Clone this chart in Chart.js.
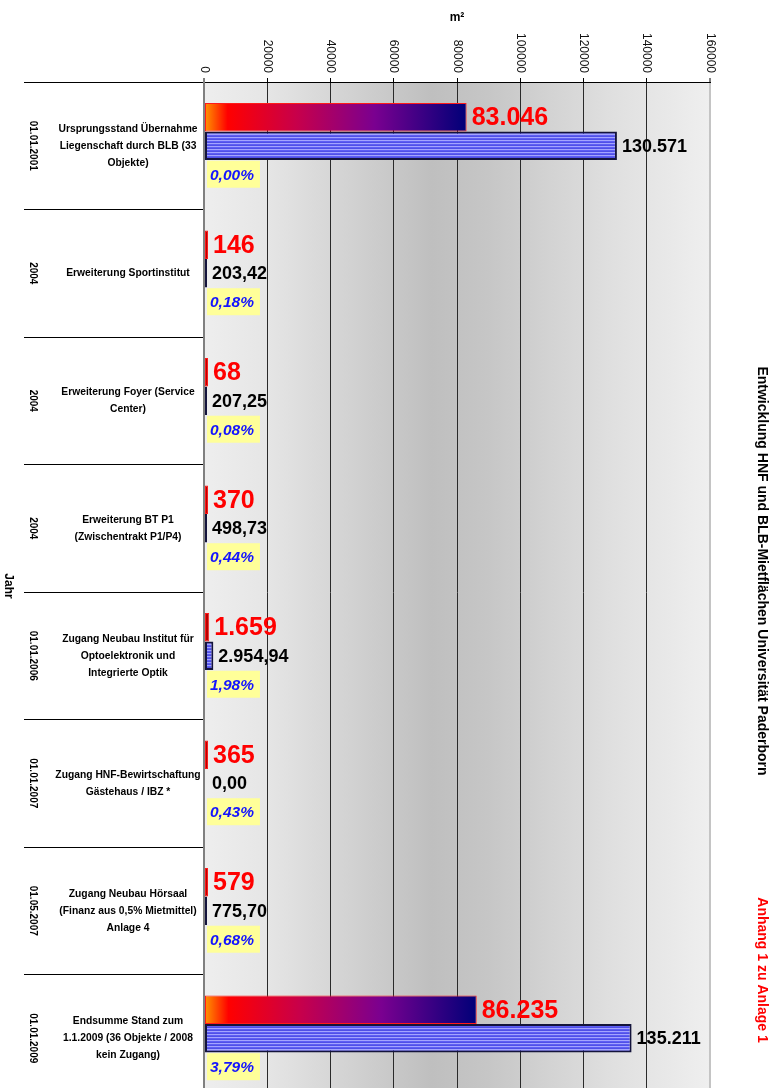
<!DOCTYPE html>
<html>
<head>
<meta charset="utf-8">
<title>Entwicklung HNF und BLB-Mietflächen Universität Paderborn</title>
<script src="https://cdn.jsdelivr.net/npm/chart.js@4/dist/chart.umd.min.js"></script>
<style>
  html, body { margin: 0; padding: 0; overflow: hidden; background: #ffffff; }
  canvas { display: block; }
</style>
</head>
<body>
<canvas id="chart" width="778" height="1102"></canvas>
<script>
// Stichtage / Jahre je Zeile
const years = ['01.01.2001', '2004', '2004', '2004', '01.01.2006', '01.01.2007', '01.05.2007', '01.01.2009'];

// Beschreibung je Zeile (mehrzeilig)
const descriptions = [
  ['Ursprungsstand Übernahme', 'Liegenschaft durch BLB (33', 'Objekte)'],
  ['Erweiterung Sportinstitut'],
  ['Erweiterung Foyer (Service', 'Center)'],
  ['Erweiterung BT P1', '(Zwischentrakt P1/P4)'],
  ['Zugang Neubau Institut für', 'Optoelektronik und', 'Integrierte Optik'],
  ['Zugang HNF-Bewirtschaftung', 'Gästehaus / IBZ *'],
  ['Zugang Neubau Hörsaal', '(Finanz aus 0,5% Mietmittel)', 'Anlage 4'],
  ['Endsumme Stand zum', '1.1.2009 (36 Objekte / 2008', 'kein Zugang)']
];

// HNF in m²
const hnfValues = [83046, 146, 68, 370, 1659, 365, 579, 86235];
// BLB-Mietfläche in m²
const blbValues = [130571, 203.42, 207.25, 498.73, 2954.94, 0, 775.70, 135211];
// Veränderung in %
const shareValues = [0.00, 0.18, 0.08, 0.44, 1.98, 0.43, 0.68, 3.79];

// Achse m²
const axisMin = 0;
const axisMax = 160000;
const axisStep = 20000;

const FONT = '"Liberation Sans", Arial, sans-serif';

// Zahlen im deutschen Format
function fmtDe(v, dec) {
  const parts = v.toFixed(dec).split('.');
  parts[0] = parts[0].replace(/\B(?=(\d{3})+(?!\d))/g, '.');
  return parts.length > 1 ? parts[0] + ',' + parts[1] : parts[0];
}

// Streifenmuster für die BLB-Balken
function stripePattern() {
  const p = document.createElement('canvas');
  p.width = 4; p.height = 3;
  const c = p.getContext('2d');
  c.fillStyle = '#5e5ef4'; c.fillRect(0, 0, 4, 1);
  c.fillStyle = '#5050e6'; c.fillRect(0, 1, 4, 1);
  c.fillStyle = '#a4a4ff'; c.fillRect(0, 2, 4, 1);
  return document.getElementById('chart').getContext('2d').createPattern(p, 'repeat');
}
const blbFill = stripePattern();

// Farbverlauf orange → rot → violett → dunkelblau je HNF-Balken
function hnfGradient(ctx) {
  const chart = ctx.chart;
  const xs = chart.scales.x;
  if (!xs || !chart.chartArea || ctx.type !== 'data') return '#ff0000';
  const x0 = xs.getPixelForValue(0);
  const x1 = xs.getPixelForValue(ctx.raw);
  if (x1 - x0 < 12) return '#b80000';
  const g = chart.ctx.createLinearGradient(x0, 0, x1, 0);
  g.addColorStop(0, '#ff9a00');
  g.addColorStop(0.09, '#ff0000');
  g.addColorStop(0.35, '#c8004a');
  g.addColorStop(0.65, '#7a0090');
  g.addColorStop(1, '#000078');
  return g;
}

// Leere Werte (0) ohne sichtbaren Balken
const blbBackground = (ctx) => (ctx.type === 'data' && ctx.raw === 0) ? 'rgba(0,0,0,0)' : blbFill;
const blbBorder = (ctx) => (ctx.type === 'data' && ctx.raw === 0) ? 'rgba(0,0,0,0)' : '#14143c';

const decorations = {
  id: 'decorations',
  beforeDraw(chart) {
    const { ctx, chartArea: a } = chart;
    const g = ctx.createLinearGradient(a.left, 0, a.right, 0);
    g.addColorStop(0, '#eeeeee');
    g.addColorStop(0.12, '#e6e6e6');
    g.addColorStop(0.45, '#bfbfbf');
    g.addColorStop(0.56, '#c6c6c6');
    g.addColorStop(0.8, '#dfdfdf');
    g.addColorStop(1, '#efefef');
    ctx.save();
    ctx.fillStyle = g;
    ctx.fillRect(a.left, a.top, a.right - a.left, a.bottom - a.top);
    ctx.restore();
  },
  afterDatasetsDraw(chart) {
    const { ctx, chartArea: a } = chart;
    ctx.save();
    ctx.textBaseline = 'middle';
    ctx.textAlign = 'left';

    // HNF-Werte
    const mH = chart.getDatasetMeta(0);
    ctx.font = 'bold 25px ' + FONT;
    ctx.fillStyle = '#ff0000';
    mH.data.forEach((el, i) => {
      ctx.fillText(fmtDe(hnfValues[i], 0), el.x + 5, el.y + 1);
    });

    // BLB-Werte
    const mB = chart.getDatasetMeta(1);
    ctx.font = 'bold 18px ' + FONT;
    ctx.fillStyle = '#000000';
    mB.data.forEach((el, i) => {
      const v = blbValues[i];
      ctx.fillText(fmtDe(v, v >= 10000 ? 0 : 2), el.x + 5, el.y + 1);
    });

    // Prozentwerte im gelben Feld
    const mP = chart.getDatasetMeta(2);
    ctx.font = 'italic bold 15.5px ' + FONT;
    mP.data.forEach((el, i) => {
      const t = fmtDe(shareValues[i], 2) + '%';
      const w = ctx.measureText(t).width;
      ctx.fillStyle = '#ffff99';
      ctx.fillRect(a.left + 3, el.y - 13.5, w + 9, 27);
      ctx.fillStyle = '#1414ff';
      ctx.fillText(t, a.left + 6, el.y + 1);
    });
    ctx.restore();
  },
  afterDraw(chart) {
    const { ctx, chartArea: a } = chart;
    const xs = chart.scales.x;
    const ys = chart.scales.y;
    ctx.save();

    // Achsenbeschriftung oben, gedreht
    ctx.fillStyle = '#111111';
    ctx.font = '12px ' + FONT;
    ctx.textAlign = 'right';
    ctx.textBaseline = 'middle';
    xs.ticks.forEach(t => {
      const x = xs.getPixelForValue(t.value);
      ctx.save();
      ctx.translate(x, a.top - 9);
      ctx.rotate(Math.PI / 2);
      ctx.fillText(String(t.value), 0, 0);
      ctx.restore();
    });

    // Achsentitel m²
    ctx.font = 'bold 12px ' + FONT;
    ctx.textAlign = 'center';
    ctx.fillStyle = '#000000';
    ctx.fillText('m²', (a.left + a.right) / 2, 18);

    // Achsentitel Jahr
    ctx.save();
    ctx.translate(8, 586);
    ctx.rotate(Math.PI / 2);
    ctx.font = 'bold 12px ' + FONT;
    ctx.fillText('Jahr', 0, 0);
    ctx.restore();

    // Zeilenbeschriftungen
    years.forEach((yr, i) => {
      const y = ys.getPixelForValue(i);
      ctx.save();
      ctx.translate(33, y);
      ctx.rotate(Math.PI / 2);
      ctx.font = 'bold 10px ' + FONT;
      ctx.fillText(yr, 0, 0);
      ctx.restore();

      const lines = descriptions[i];
      ctx.font = 'bold 10.3px ' + FONT;
      const lh = 17;
      const y0 = y - (lines.length - 1) * lh / 2;
      lines.forEach((ln, k) => ctx.fillText(ln, 128, y0 + k * lh));
    });

    // Titel rechts
    ctx.save();
    ctx.translate(762, 571);
    ctx.rotate(Math.PI / 2);
    ctx.font = 'bold 14px ' + FONT;
    ctx.fillStyle = '#000000';
    ctx.fillText('Entwicklung HNF und BLB-Mietflächen Universität Paderborn', 0, 0);
    ctx.restore();

    ctx.save();
    ctx.translate(762, 970);
    ctx.rotate(Math.PI / 2);
    ctx.font = 'bold 14px ' + FONT;
    ctx.fillStyle = '#ff0000';
    ctx.fillText('Anhang 1 zu Anlage 1', 0, 0);
    ctx.restore();

    ctx.restore();
  }
};

const gridColor = (c) => {
  if (c.index === 0) return '#808080';
  if (c.tick && c.tick.value === axisMax) return '#c4c4c4';
  return '#2a2a2a';
};
const gridWidth = (c) => (c.index === 0 || (c.tick && c.tick.value === axisMax)) ? 2 : 1;

new Chart(document.getElementById('chart'), {
  type: 'bar',
  data: {
    labels: years,
    datasets: [
      {
        label: 'HNF',
        data: hnfValues,
        backgroundColor: hnfGradient,
        borderColor: '#ff1a1a',
        borderWidth: 1,
        borderSkipped: false,
        minBarLength: 4
      },
      {
        label: 'BLB-Mietfläche',
        data: blbValues,
        backgroundColor: blbBackground,
        borderColor: blbBorder,
        borderWidth: 2,
        borderSkipped: false,
        minBarLength: 3
      },
      {
        label: 'Veränderung %',
        data: shareValues,
        backgroundColor: 'rgba(0,0,0,0)',
        borderWidth: 0
      }
    ]
  },
  options: {
    indexAxis: 'y',
    responsive: false,
    animation: false,
    devicePixelRatio: 1,
    datasets: { bar: { barPercentage: 1, categoryPercentage: 0.67 } },
    layout: { padding: { left: 24, right: 68, top: 78, bottom: 0 } },
    plugins: { legend: { display: false }, tooltip: { enabled: false } },
    scales: {
      x: {
        position: 'top',
        min: axisMin,
        max: axisMax,
        ticks: { display: false, stepSize: axisStep },
        grid: { color: gridColor, lineWidth: gridWidth, tickLength: 4, tickColor: '#000000', tickWidth: 1 },
        border: { display: true, color: '#000000', width: 1 }
      },
      y: {
        position: 'left',
        ticks: { display: false },
        grid: { display: true, drawOnChartArea: false, drawTicks: true, tickLength: 180, color: '#000000', lineWidth: 1, offset: true },
        border: { display: true, color: '#808080', width: 2 }
      }
    }
  },
  plugins: [decorations]
});
</script>
</body>
</html>
